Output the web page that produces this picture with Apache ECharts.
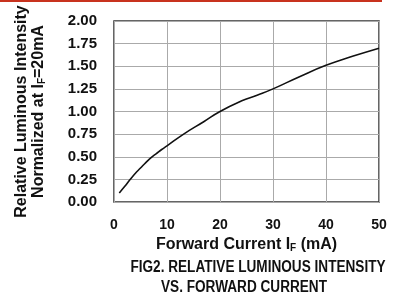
<!DOCTYPE html>
<html>
<head>
<meta charset="utf-8">
<script src="https://cdn.jsdelivr.net/npm/echarts@6/dist/echarts.min.js"></script>
<style>
  html, body { margin: 0; padding: 0; background: #fff; }
  #chart { width: 393px; height: 295px; }
</style>
</head>
<body>
<div id="chart"></div>
<script>
  // forward current (mA) and relative intensity
  var currentMA = [1, 2, 3, 4, 5, 6, 7, 8, 9, 10, 13, 17, 20, 24, 27, 30, 35, 40, 45, 50]
  var relIntensity = [0.10, 0.17, 0.245, 0.315, 0.375, 0.435, 0.49, 0.535, 0.58, 0.62, 0.745, 0.89, 1.00, 1.115, 1.18, 1.25, 1.385, 1.51, 1.61, 1.70]
  var titleLines = ['FIG2. RELATIVE LUMINOUS INTENSITY', 'VS. FORWARD CURRENT']

  var font = 'Liberation Sans, Arial, sans-serif'
  var points = currentMA.map(function (x, i) { return [x, relIntensity[i]] })

  // caption is set in a condensed bold face, so squeeze it a little
  function captionLine (txt, cx, top) {
    return {
      type: 'text', x: cx, y: top, scaleX: 0.85,
      style: {
        text: txt, x: 0, y: 0, align: 'center', verticalAlign: 'top',
        font: 'bold 16px Liberation Sans, Arial, sans-serif', fill: '#111'
      }
    }
  }

  var chart = echarts.init(document.getElementById('chart'))
  var option = {
    animation: false,
    graphic: [
      { type: 'rect', shape: { x: 0, y: 0, width: 382, height: 2 }, style: { fill: '#c8321e' } },
      captionLine(titleLines[0], 258, 260),
      captionLine(titleLines[1], 244, 280)
    ],
    grid: {
      left: 114, right: 14, top: 21, bottom: 93,
      show: true, borderColor: '#333', borderWidth: 1.5
    },
    xAxis: {
      type: 'value', min: 0, max: 50, interval: 10,
      name: 'Forward Current I{s|F} (mA)',
      nameLocation: 'middle', nameGap: 31,
      nameTextStyle: {
        fontFamily: font, fontSize: 16, fontWeight: 'bold', color: '#111',
        rich: { s: { fontFamily: font, fontSize: 10, fontWeight: 'bold', color: '#111', verticalAlign: 'bottom', padding: [7, 0, 0, 0] } }
      },
      axisLine: { show: false },
      axisTick: { show: false },
      axisLabel: { margin: 16, fontFamily: font, fontSize: 14, fontWeight: 'bold', color: '#111' },
      splitLine: { lineStyle: { color: '#aaa', width: 1 } }
    },
    yAxis: {
      type: 'value', min: 0, max: 2, interval: 0.25,
      name: 'Relative Luminous Intensity\nNormalized at I{s|F}=20mA',
      nameLocation: 'middle', nameRotate: 90, nameGap: 67,
      nameTextStyle: {
        fontFamily: font, fontSize: 16, fontWeight: 'bold', color: '#111', lineHeight: 17,
        rich: { s: { fontFamily: font, fontSize: 10, fontWeight: 'bold', color: '#111', lineHeight: 17, padding: [7, 0, 0, 0] } }
      },
      axisLine: { show: false },
      axisTick: { show: false },
      axisLabel: {
        margin: 17, fontFamily: font, fontSize: 15, fontWeight: 'bold', color: '#111',
        formatter: function (v) { return v.toFixed(2) }
      },
      splitLine: { lineStyle: { color: '#aaa', width: 1 } }
    },
    series: [{
      type: 'line',
      data: points,
      smooth: true,
      showSymbol: false,
      lineStyle: { color: '#111', width: 1.6 }
    }]
  }
  chart.setOption(option)
</script>
</body>
</html>
